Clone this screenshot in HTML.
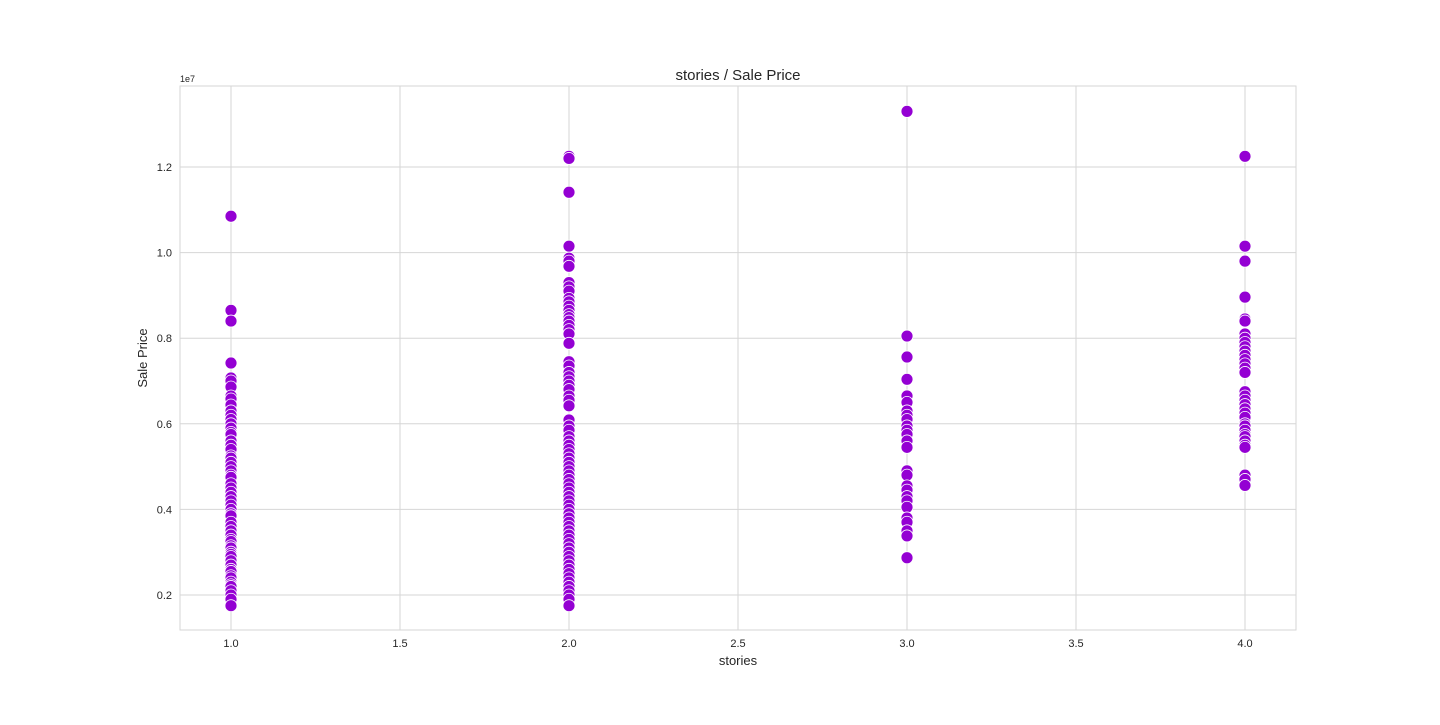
<!DOCTYPE html>
<html><head><meta charset="utf-8"><style>
html,body{margin:0;padding:0;background:#fff;}
svg text{font-family:"Liberation Sans","DejaVu Sans",sans-serif;fill:#262626;}
</style></head><body>
<svg id="chart" width="1440" height="720" xmlns="http://www.w3.org/2000/svg"></svg>
<script>
const storyCategories = [1, 2, 3, 4];
const xTicks = [1.0, 1.5, 2.0, 2.5, 3.0, 3.5, 4.0];
const yTicks = [0.2, 0.4, 0.6, 0.8, 1.0, 1.2];
const pricesStories1 = [10.85, 8.65, 8.4, 7.42, 7.07, 7.0, 6.86, 6.65, 6.58, 6.44, 6.3, 6.2, 6.1, 6.0, 5.9, 5.8, 5.75, 5.6, 5.5, 5.4, 5.25, 5.2, 5.1, 5.0, 4.9, 4.8, 4.75, 4.6, 4.5, 4.4, 4.3, 4.2, 4.1, 4.0, 3.9, 3.85, 3.7, 3.6, 3.5, 3.4, 3.3, 3.25, 3.15, 3.1, 3.0, 2.95, 2.9, 2.8, 2.7, 2.6, 2.55, 2.45, 2.4, 2.3, 2.24, 2.2, 2.1, 2.0, 1.9, 1.75];
const pricesStories2 = [12.25, 12.2, 11.41, 10.15, 9.87, 9.8, 9.68, 9.3, 9.2, 9.1, 8.93, 8.85, 8.75, 8.65, 8.55, 8.48, 8.4, 8.3, 8.2, 8.1, 7.88, 7.45, 7.35, 7.2, 7.1, 7.0, 6.9, 6.8, 6.65, 6.55, 6.42, 6.09, 5.95, 5.85, 5.7, 5.6, 5.5, 5.4, 5.3, 5.2, 5.1, 5.0, 4.9, 4.8, 4.7, 4.6, 4.5, 4.4, 4.3, 4.2, 4.1, 4.0, 3.9, 3.8, 3.7, 3.6, 3.5, 3.4, 3.3, 3.2, 3.1, 3.0, 2.9, 2.8, 2.7, 2.6, 2.5, 2.4, 2.3, 2.2, 2.1, 2.0, 1.9, 1.75];
const pricesStories3 = [13.3, 8.05, 7.56, 7.04, 6.65, 6.5, 6.3, 6.2, 6.1, 5.95, 5.85, 5.75, 5.6, 5.45, 4.9, 4.8, 4.55, 4.45, 4.3, 4.2, 4.05, 3.8, 3.7, 3.5, 3.38, 2.87];
const pricesStories4 = [12.25, 10.15, 9.8, 8.96, 8.45, 8.4, 8.1, 8.0, 7.9, 7.8, 7.7, 7.6, 7.5, 7.4, 7.3, 7.2, 6.75, 6.65, 6.55, 6.45, 6.35, 6.25, 6.15, 6.0, 5.95, 5.85, 5.75, 5.7, 5.6, 5.5, 5.45, 4.8, 4.7, 4.56];
const seriesPrices = [pricesStories1, pricesStories2, pricesStories3, pricesStories4];

const NS = "http://www.w3.org/2000/svg";
const svg = document.getElementById('chart');
const L = 180, R = 1296, T = 86, B = 630;
function xScale(v){ return 231 + (v - 1) * 338; }
function yScale(v){ return 595 - (v - 0.2) * 428; } // v in units of 1e7
function mk(tag, attrs, parent){ const e = document.createElementNS(NS, tag); for (const k in attrs) e.setAttribute(k, attrs[k]); (parent||svg).appendChild(e); return e; }

const frame = mk('rect', {x:L, y:T, width:R-L, height:B-T, fill:'#fff', stroke:'#d6d6d6', 'stroke-width':1});



xTicks.forEach(t => {
  const x = xScale(t);
  const g = mk('line', {x1:x, x2:x, y1:T, y2:B, stroke:'#d6d6d6', 'stroke-width':1});
  
  
  const lbl = mk('text', {x:x, y:647, 'font-size':11, 'text-anchor':'middle'});
  lbl.textContent = t.toFixed(1);
  
  
});
yTicks.forEach(t => {
  const y = yScale(t);
  const g = mk('line', {x1:L, x2:R, y1:y, y2:y, stroke:'#d6d6d6', 'stroke-width':1});
  
  
  const lbl = mk('text', {x:172, y:y+4, 'font-size':11, 'text-anchor':'end'});
  lbl.textContent = t.toFixed(1);
  
  
});

storyCategories.forEach((c, i) => {
  seriesPrices[i].forEach(p => {
    const pt = mk('circle', {cx:xScale(c), cy:yScale(p/10), r:6, fill:'#9400D3', stroke:'#fff', 'stroke-width':0.8});
    
    
  });
});

const title = mk('text', {x:738, y:80, 'font-size':15, 'text-anchor':'middle'});
title.textContent = 'stories / Sale Price';


const xt = mk('text', {x:738, y:665, 'font-size':13, 'text-anchor':'middle'});
xt.textContent = 'stories';


const yt = mk('text', {x:0, y:0, 'font-size':13, 'text-anchor':'middle', transform:'translate(147,358) rotate(-90)'});
yt.textContent = 'Sale Price';


const off = mk('text', {x:180, y:82, 'font-size':9});
off.textContent = '1e7';


</script>
</body></html>
